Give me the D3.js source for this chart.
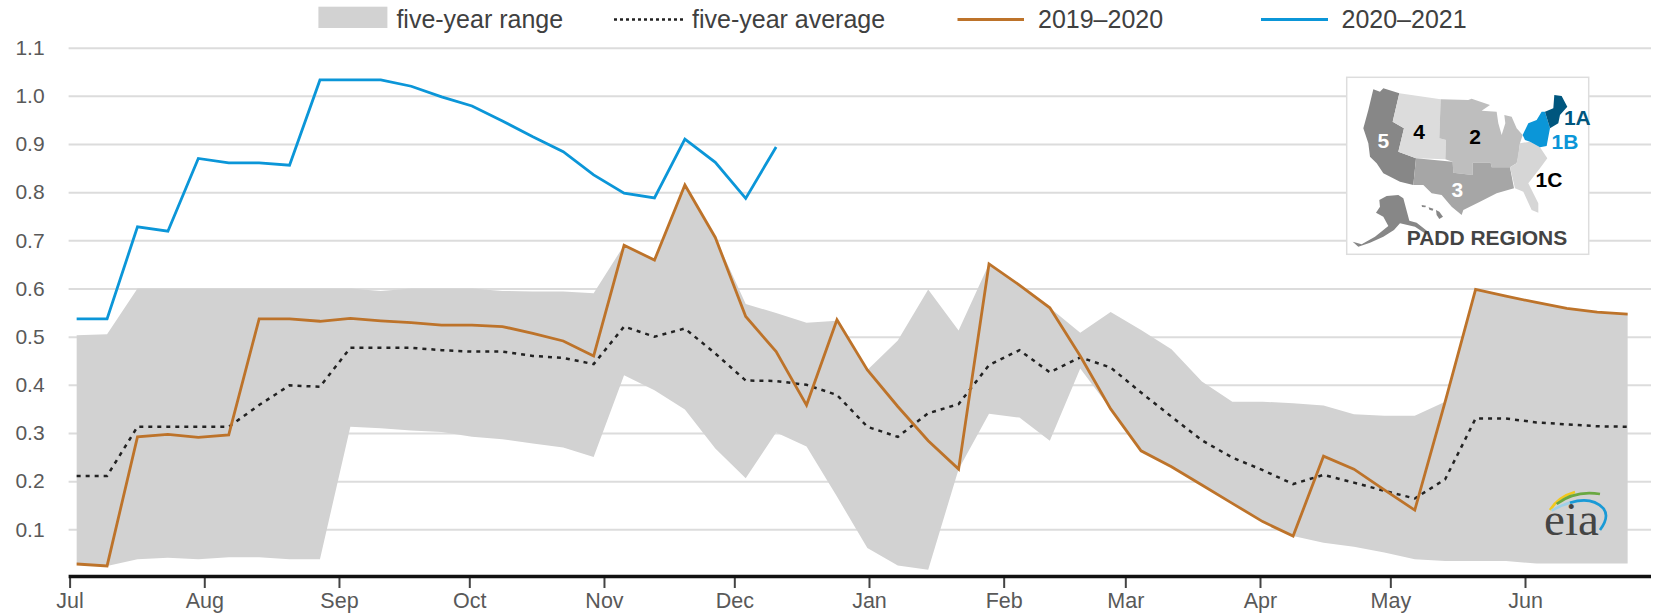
<!DOCTYPE html>
<html>
<head>
<meta charset="utf-8">
<style>
    html, body { margin: 0; padding: 0; background: #fff; }
    svg { display: block; }
    text { font-family: "Liberation Sans", Arial, sans-serif; }
</style>
<script src="https://cdnjs.cloudflare.com/ajax/libs/d3/7.8.5/d3.min.js"></script>
</head>
<body>
<div id="chart"></div>
<script>
// weekly values
var rangeLow = [0.028, 0.024, 0.038, 0.041, 0.038, 0.042, 0.042, 0.038, 0.038, 0.313, 0.310, 0.305, 0.302, 0.292, 0.287, 0.278,
    0.270, 0.250, 0.420, 0.389, 0.349, 0.268, 0.206, 0.301, 0.272, 0.168, 0.061, 0.025, 0.016, 0.225, 0.340, 0.332,
    0.284, 0.434, 0.350, 0.263, 0.230, 0.192, 0.154, 0.116, 0.086, 0.072, 0.064, 0.052, 0.038, 0.034, 0.034, 0.034,
    0.029, 0.029, 0.029, 0.029];
var rangeHigh = [0.503, 0.505, 0.600, 0.600, 0.600, 0.600, 0.600, 0.600, 0.600, 0.600, 0.595, 0.600, 0.600, 0.600, 0.595, 0.594,
    0.594, 0.590, 0.690, 0.659, 0.815, 0.706, 0.568, 0.549, 0.529, 0.533, 0.431, 0.492, 0.598, 0.513, 0.651, 0.607,
    0.560, 0.508, 0.551, 0.514, 0.474, 0.407, 0.365, 0.365, 0.362, 0.357, 0.339, 0.336, 0.336, 0.365, 0.598, 0.584,
    0.571, 0.559, 0.551, 0.547];
var average = [0.211, 0.211, 0.313, 0.313, 0.313, 0.313, 0.358, 0.399, 0.396, 0.477, 0.477, 0.477, 0.472, 0.469, 0.469, 0.460,
    0.456, 0.443, 0.521, 0.500, 0.517, 0.465, 0.409, 0.408, 0.400, 0.379, 0.313, 0.292, 0.341, 0.360, 0.441, 0.472,
    0.426, 0.457, 0.436, 0.384, 0.334, 0.285, 0.249, 0.223, 0.194, 0.213, 0.197, 0.180, 0.164, 0.204, 0.330, 0.330,
    0.322, 0.318, 0.314, 0.313];
var season2019 = [0.028, 0.024, 0.292, 0.297, 0.291, 0.296, 0.537, 0.537, 0.532, 0.538, 0.533, 0.529, 0.524, 0.524, 0.521, 0.507,
    0.491, 0.460, 0.690, 0.659, 0.815, 0.706, 0.542, 0.469, 0.358, 0.535, 0.431, 0.355, 0.284, 0.225, 0.651, 0.607,
    0.560, 0.460, 0.350, 0.263, 0.230, 0.192, 0.154, 0.116, 0.086, 0.252, 0.225, 0.182, 0.140, 0.365, 0.598, 0.584,
    0.571, 0.559, 0.551, 0.547];
var season2020 = [0.537, 0.537, 0.728, 0.719, 0.870, 0.861, 0.861, 0.856, 1.033, 1.033, 1.033, 1.020, 0.998, 0.979, 0.948, 0.915,
    0.884, 0.836, 0.798, 0.788, 0.910, 0.862, 0.787, 0.894];
var yTicks = [0.1, 0.2, 0.3, 0.4, 0.5, 0.6, 0.7, 0.8, 0.9, 1.0, 1.1];
var legendNames = ["five-year range", "five-year average", "2019\u20132020", "2020\u20132021"];

var width = 1659, height = 615;
var textColor = "#595959", gridColor = "#dcdcdc", bandColor = "#d2d2d2";
var brown = "#bd732a", blue = "#0b96d8", navy = "#00567e";

var firstWeek = new Date(2020, 6, 2, 15);
function weekDate(d, i) { return d3.timeDay.offset(firstWeek, i * 7); }

var svg = d3.select("#chart").append("svg")
    .attr("width", width)
    .attr("height", height);

var x = d3.scaleTime()
    .domain([new Date(2020, 6, 1), new Date(2021, 5, 30)])
    .range([69.6, 1651]);
var y = d3.scaleLinear()
    .domain([0, 1.1])
    .range([577.5, 47.7]);

// grid + y labels
var yAxis = d3.axisLeft(y)
    .tickValues(yTicks)
    .tickFormat(d3.format(".1f"))
    .tickSize(1651 - 68.6)
    .tickPadding(24);
var gy = svg.append("g")
    .attr("transform", "translate(1651,0)")
    .call(yAxis);
gy.select(".domain").remove();
gy.selectAll("line").attr("stroke", gridColor).attr("stroke-width", 2);
gy.selectAll("text").attr("fill", textColor).attr("font-size", 21);

// five-year band
var area = d3.area()
    .x(function (d, i) { return x(weekDate(d, i)); })
    .y0(function (d, i) { return y(rangeLow[i]); })
    .y1(function (d, i) { return y(rangeHigh[i]); });
svg.append("path")
    .datum(rangeLow)
    .attr("fill", bandColor)
    .attr("d", area);

var line = d3.line()
    .x(function (d, i) { return x(weekDate(d, i)); })
    .y(function (d) { return y(d); });

svg.append("path").datum(average)
    .attr("fill", "none")
    .attr("stroke", "#222222")
    .attr("stroke-width", 2.5)
    .attr("stroke-dasharray", "4,5")
    .attr("d", line);
svg.append("path").datum(season2019)
    .attr("fill", "none")
    .attr("stroke", brown)
    .attr("stroke-width", 2.8)
    .attr("d", line);
svg.append("path").datum(season2020)
    .attr("fill", "none")
    .attr("stroke", blue)
    .attr("stroke-width", 2.8)
    .attr("d", line);

// x axis
var xAxis = d3.axisBottom(x)
    .ticks(d3.timeMonth.every(1))
    .tickFormat(d3.timeFormat("%b"))
    .tickSize(11)
    .tickPadding(5);
var gx = svg.append("g")
    .attr("transform", "translate(0,577)")
    .call(xAxis);
gx.select(".domain").remove();
gx.selectAll("line").attr("stroke", "#444444").attr("stroke-width", 2);
gx.selectAll("text").attr("fill", textColor).attr("font-size", 21.5);
svg.append("line")
    .attr("x1", 68.6)
    .attr("x2", 1651)
    .attr("y1", 576.5)
    .attr("y2", 576.5)
    .attr("stroke", "#111111")
    .attr("stroke-width", 3.5);

// legend
var legend = svg.append("g").attr("font-size", 25).attr("fill", "#404040");
legend.append("rect")
    .attr("x", 318.4).attr("y", 6.7)
    .attr("width", 69).attr("height", 21.3)
    .attr("fill", bandColor);
legend.append("line")
    .attr("x1", 614).attr("x2", 683).attr("y1", 19.5).attr("y2", 19.5)
    .attr("stroke", "#222222").attr("stroke-width", 2.5).attr("stroke-dasharray", "3,3");
legend.append("line")
    .attr("x1", 957.5).attr("x2", 1024).attr("y1", 19.5).attr("y2", 19.5)
    .attr("stroke", brown).attr("stroke-width", 2.8);
legend.append("line")
    .attr("x1", 1261).attr("x2", 1328).attr("y1", 19.5).attr("y2", 19.5)
    .attr("stroke", blue).attr("stroke-width", 2.8);
var legendX = [396.4, 692, 1038, 1341.5];
legend.selectAll("text")
    .data(legendNames)
    .enter()
    .append("text")
    .attr("x", function (d, i) { return legendX[i]; })
    .attr("y", 28.3)
    .text(function (d) { return d; });

// PADD inset, shapes traced in 3x pixel coords of the box area
var inset = svg.append("g");
inset.append("rect")
    .attr("x", 1346.7).attr("y", 77.3)
    .attr("width", 242).attr("height", 177)
    .attr("fill", "#fff")
    .attr("stroke", "#dddddd")
    .attr("stroke-width", 1.5);
var map = inset.append("g").attr("transform", "translate(1320,60) scale(0.3333)");
var paddShapes = [
    { fill: "#878787", pts: [[160,88],[180,95],[190,85],[238,100],[218,185],[252,205],[235,275],[288,295],[280,375],[240,365],[190,340],[170,310],[150,290],[145,250],[130,205],[145,150]] },
    { fill: "#dcdcdc", pts: [[238,100],[362,118],[358,235],[378,240],[376,298],[288,295],[235,275],[252,205],[218,185]] },
    { fill: "#bebebe", pts: [[362,118],[445,120],[455,116],[510,135],[485,152],[530,155],[535,190],[545,225],[556,190],[553,165],[575,170],[590,205],[608,225],[600,250],[595,290],[590,310],[570,322],[515,322],[512,308],[458,308],[458,345],[400,338],[398,305],[376,298],[378,240],[358,235]] },
    { fill: "#a6a6a6", pts: [[288,295],[398,305],[400,338],[458,345],[458,308],[512,308],[515,322],[570,322],[582,385],[530,400],[480,425],[430,450],[425,465],[395,440],[365,405],[335,400],[310,375],[280,375]] },
    { fill: "#d6d6d6", pts: [[600,250],[630,245],[660,262],[682,295],[660,325],[625,370],[655,430],[655,458],[635,450],[610,395],[585,385],[570,322],[590,310]] },
    { fill: blue, pts: [[608,225],[625,190],[650,180],[665,155],[675,155],[690,205],[680,258],[660,262],[630,245],[615,240]] },
    { fill: navy, pts: [[675,155],[700,145],[703,105],[725,108],[742,140],[720,165],[715,190],[690,205]] },
    { fill: "#878787", pts: [[178,420],[200,408],[235,405],[250,415],[268,482],[290,488],[330,520],[318,522],[285,500],[240,490],[222,510],[190,530],[150,548],[115,560],[98,545],[125,553],[165,530],[205,498],[190,470],[168,458],[180,440]] },
    { fill: "#878787", pts: [[305,435],[318,437],[316,442],[306,441]] },
    { fill: "#878787", pts: [[326,442],[340,446],[338,452],[328,449]] },
    { fill: "#878787", pts: [[348,450],[358,455],[369,470],[358,477],[350,465]] }
];
var shapeLine = d3.line().curve(d3.curveLinearClosed);
map.selectAll("path")
    .data(paddShapes)
    .enter()
    .append("path")
    .attr("fill", function (d) { return d.fill; })
    .attr("d", function (d) { return shapeLine(d.pts); });
var paddLabels = [
    { t: "5", px: 190, py: 264, c: "#fff" },
    { t: "4", px: 297, py: 237, c: "#000" },
    { t: "2", px: 465, py: 252, c: "#000" },
    { t: "3", px: 412, py: 410, c: "#fff" },
    { t: "1C", px: 687, py: 380, c: "#000" },
    { t: "1A", px: 772, py: 194, c: navy },
    { t: "1B", px: 735, py: 267, c: blue },
    { t: "PADD REGIONS", px: 501, py: 554, c: "#444444" }
];
map.selectAll("text")
    .data(paddLabels)
    .enter()
    .append("text")
    .attr("x", function (d) { return d.px; })
    .attr("y", function (d) { return d.py; })
    .attr("text-anchor", "middle")
    .attr("font-weight", "bold")
    .attr("font-size", 63)
    .attr("fill", function (d) { return d.c; })
    .text(function (d) { return d.t; });

// eia logo
var logo = svg.append("g").attr("transform", "translate(1520,480) scale(0.3333)");
var logoArcs = [
    { c: "#f2c81e", d: "M90,90 Q115,50 165,36" },
    { c: "#6aa842", d: "M110,72 Q165,30 240,42" },
    { c: "#9fd0e8", d: "M95,92 Q150,60 200,62" },
    { c: "#1a9ad6", d: "M150,68 Q215,48 250,85 Q270,110 240,150" }
];
logo.selectAll("path")
    .data(logoArcs)
    .enter()
    .append("path")
    .attr("fill", "none")
    .attr("stroke", function (d) { return d.c; })
    .attr("stroke-width", 8)
    .attr("d", function (d) { return d.d; });
svg.append("text")
    .attr("x", 1571.5)
    .attr("y", 535)
    .attr("text-anchor", "middle")
    .attr("font-size", 47)
    .attr("fill", "#444444")
    .style("font-family", "'Liberation Serif', serif")
    .text("eia");
</script>
</body>
</html>
